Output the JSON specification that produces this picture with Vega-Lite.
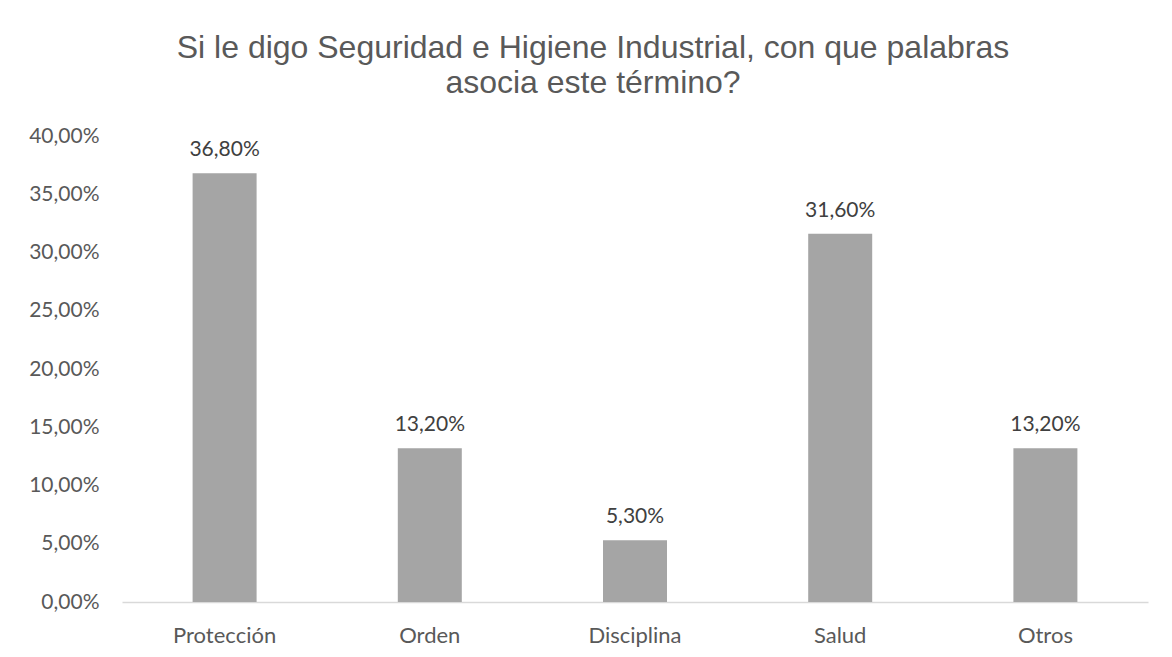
{
  "$schema": "https://vega.github.io/schema/vega-lite/v6.json",
  "autosize": {"type": "none"},
  "width": 1026,
  "height": 466,
  "padding": {"left": 122, "top": 136, "right": 24, "bottom": 55},
  "background": "white",
  "config": {
    "locale": {"number": {"decimal": ",", "thousands": ".", "grouping": [3], "currency": ["", " €"]}},
    "view": {"stroke": null},
    "axis": {"grid": false, "ticks": false, "labelFont": "Lato", "labelFontSize": 21, "labelColor": "#595959", "title": null, "domain": false}
  },
  "title": {
    "text": ["Si le digo Seguridad e Higiene Industrial, con que palabras", "asocia este término?"],
    "font": "Liberation Sans",
    "fontSize": 32,
    "fontWeight": "normal",
    "color": "#595959",
    "lineHeight": 35,
    "anchor": "middle",
    "dx": -42,
    "offset": 25
  },
  "data": {
    "values": [
      {"categoria": "Protección", "valor": 0.368},
      {"categoria": "Orden", "valor": 0.132},
      {"categoria": "Disciplina", "valor": 0.053},
      {"categoria": "Salud", "valor": 0.316},
      {"categoria": "Otros", "valor": 0.132}
    ]
  },
  "encoding": {
    "x": {
      "field": "categoria", "type": "nominal", "sort": null,
      "scale": {"paddingInner": 0, "paddingOuter": 0},
      "axis": {"labelAngle": 0, "labelPadding": 40, "labelBaseline": "alphabetic", "labelFontSize": 22, "domain": true, "domainColor": "#D9D9D9", "domainWidth": 1.5}
    },
    "y": {
      "field": "valor", "type": "quantitative",
      "scale": {"domain": [0, 0.4], "nice": false},
      "axis": {"format": ".2%", "values": [0, 0.05, 0.1, 0.15, 0.2, 0.25, 0.3, 0.35, 0.4], "labelPadding": 23}
    }
  },
  "layer": [
    {"mark": {"type": "bar", "size": 64, "color": "#A5A5A5"}},
    {
      "mark": {"type": "text", "font": "Lato", "fontSize": 21, "color": "#404040", "baseline": "alphabetic", "dy": -17},
      "encoding": {"text": {"field": "valor", "type": "quantitative", "format": ".2%"}}
    }
  ]
}
